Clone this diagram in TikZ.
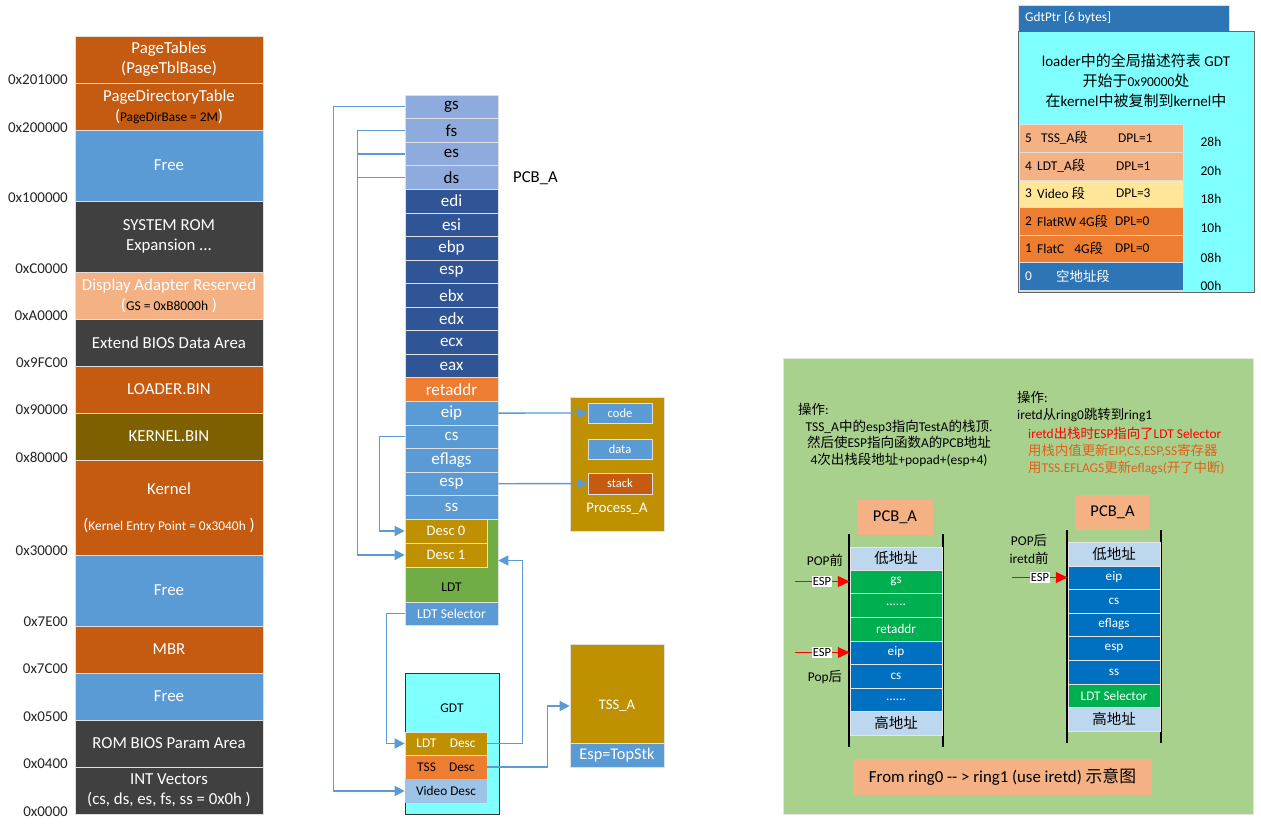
\documentclass[tikz,border=0pt]{standalone}
\usepackage{fontspec}
\setmainfont{Carlito}
\newfontfamily\cjk{Noto Sans CJK SC}
\usetikzlibrary{arrows.meta}
\newcommand\zh[1]{{\cjk #1}}
\newcommand\fs[2]{\fontsize{#1}{#2}\selectfont}
\newcommand\mcell[7]{\node[#6,minimum width={(#4)-(#2)},minimum height={(#5)-(#3)}] (#1) at ({((#2)+(#4))/2},{((#3)+(#5))/2}) {#7};}
\definecolor{orng}{HTML}{C55A11}
\definecolor{lblue}{HTML}{5B9BD5}
\definecolor{dgray}{HTML}{404040}
\definecolor{peach}{HTML}{F4B183}
\definecolor{olive}{HTML}{7F6000}
\definecolor{lpurp}{HTML}{8FAADC}
\definecolor{dblue}{HTML}{2F5597}
\definecolor{orange2}{HTML}{ED7D31}
\definecolor{gold}{HTML}{BF9000}
\definecolor{ldtgreen}{HTML}{70AD47}
\definecolor{cyanb}{HTML}{80FFFF}
\definecolor{vdesc}{HTML}{9DC3E6}
\definecolor{gdtblue}{HTML}{2E75B6}
\definecolor{yellowl}{HTML}{FFE699}
\definecolor{pgreen}{HTML}{A9D18E}
\definecolor{bgreen}{HTML}{00B050}
\definecolor{blue2}{HTML}{0070C0}
\definecolor{pale}{HTML}{BDD7EE}
\definecolor{redorange}{HTML}{E0601B}
\begin{document}
\begin{tikzpicture}[x=1pt,y=-1pt,
 mem/.style={draw=white!75!gray, line width=0.6pt, text=white, font=\fs{16.8}{20}, align=center, inner sep=0pt},
 addr/.style={anchor=east, text=black!85, font=\fs{15}{17}, inner sep=0pt},
 reg/.style={draw=white!75!gray, line width=0.6pt, minimum width=93, minimum height=23.56, inner sep=0pt, font=\fs{17}{19}},
 conn/.style={draw=lblue, line width=1.4pt, -{Triangle[length=10pt,width=10pt]}},
 cline/.style={draw=lblue, line width=1.4pt},
 box/.style={draw=white!75!gray, line width=0.6pt, inner sep=0pt},
 lbl/.style={inner sep=0pt, font=\fs{13.4}{15}},
 srow/.style={draw=white!80!gray, line width=0.5pt, inner sep=0pt, font=\fs{13.2}{15}, text=white},
 redarr/.style={draw=red, line width=1pt, -{Triangle[length=12pt,width=11pt]}},
 esplbl/.style={fill=white, inner sep=1pt, font=\fs{12.5}{13}},
 vline/.style={draw=black, line width=1.6pt},
]
\useasboundingbox (0,0) rectangle (1261,828);
\fill[white] (0,0) rectangle (1261,828);

% ---------------- memory map ----------------
\mcell{m1}{75}{36}{263}{83}{mem,fill=orng}{PageTables\\(PageTblBase)}
\mcell{m2}{75}{83}{263}{130}{mem,fill=orng}{PageDirectoryTable\\({\fs{13.3}{15}\color{black}PageDirBase = 2M})}
\mcell{m3}{75}{130}{263}{201}{mem,fill=lblue}{Free}
\mcell{m4}{75}{201}{263}{272}{mem,fill=dgray}{SYSTEM ROM\\Expansion ...}
\mcell{m5}{75}{272}{263}{319}{mem,fill=peach}{Display Adapter Reserved\\({\fs{13.5}{15}\color{black}GS = 0xB8000h} )}
\mcell{m6}{75}{319}{263}{366}{mem,fill=dgray}{Extend BIOS Data Area}
\mcell{m7}{75}{366}{263}{413}{mem,fill=orng}{LOADER.BIN}
\mcell{m8}{75}{413}{263}{460}{mem,fill=olive}{KERNEL.BIN}
\mcell{m9}{75}{460}{263}{555}{mem,fill=orng}{Kernel\\[16pt]({\fs{13.4}{15}Kernel Entry Point = 0x3040h} )}
\mcell{m10}{75}{555}{263}{626}{mem,fill=lblue}{Free}
\mcell{m11}{75}{626}{263}{673}{mem,fill=orng}{MBR}
\mcell{m12}{75}{673}{263}{720}{mem,fill=lblue}{Free}
\mcell{m13}{75}{720}{263}{767}{mem,fill=dgray}{ROM BIOS Param Area}
\mcell{m14}{75}{767}{263}{814}{mem,fill=dgray}{INT Vectors\\(cs, ds, es, fs, ss = 0x0h )}

\node[addr] (a1) at (68,80) {0x201000};
\node[addr] (a2) at (68,128) {0x200000};
\node[addr] (a3) at (68,198) {0x100000};
\node[addr] (a4) at (68,269) {0xC0000};
\node[addr] (a5) at (68,316) {0xA0000};
\node[addr] (a6) at (68,363) {0x9FC00};
\node[addr] (a7) at (68,410) {0x90000};
\node[addr] (a8) at (68,457) {0x80000};
\node[addr] (a9) at (68,551) {0x30000};
\node[addr] (a10) at (68,622) {0x7E00};
\node[addr] (a11) at (68,669) {0x7C00};
\node[addr] (a12) at (68,717) {0x0500};
\node[addr] (a13) at (68,764) {0x0400};
\node[addr] (a14) at (68,812) {0x0000};

% ---------------- PCB stack ----------------
\foreach \t [count=\i from 0] in {gs,fs,es,ds}
  {\node[reg,fill=lpurp,text=black] (p\i) at (451.5,{95+23.56*\i+11.78}) {\t};}
\foreach \t [count=\i from 4] in {edi,esi,ebp,esp,ebx,edx,ecx,eax}
  {\node[reg,fill=dblue,text=white] (p\i) at (451.5,{95+23.56*\i+11.78}) {\t};}
\node[reg,fill=orange2,text=white] (p12) at (451.5,{95+23.56*12+11.78}) {retaddr};
\foreach \t [count=\i from 13] in {eip,cs,eflags,esp,ss}
  {\node[reg,fill=lblue,text=white] (p\i) at (451.5,{95+23.56*\i+11.78}) {\t};}

\node[font=\fs{16.7}{18},inner sep=0pt,anchor=west] (pcbl) at (513,178) {PCB\_A};

\mcell{ldt}{405}{519}{498}{602}{box,fill=ldtgreen}{}
\node[lbl,text=black] (ldtt) at (451.5,587) {LDT};
\mcell{d0}{405}{519}{487}{543}{box,fill=gold,text=white,font=\fs{14.5}{16}}{Desc 0}
\mcell{d1}{405}{543}{487}{567}{box,fill=gold,text=white,font=\fs{14.5}{16}}{Desc 1}
\mcell{lsel}{405}{602}{498}{625}{box,fill=lblue,text=white,font=\fs{13.6}{15}}{LDT Selector}

% ---------------- Process_A ----------------
\mcell{proc}{570}{397}{664}{531}{box,fill=gold}{}
\mcell{code}{588}{403}{652}{423}{box,fill=lblue,text=white,font=\fs{12.5}{14}}{code}
\mcell{data}{588}{439}{652}{459}{box,fill=lblue,text=white,font=\fs{12.5}{14}}{data}
\mcell{stack}{588}{473}{652}{494}{box,fill=orng,text=white,font=\fs{12.5}{14}}{stack}
\node[text=white,font=\fs{14.7}{16},inner sep=0pt] (proct) at (617,509) {Process\_A};

% ---------------- GDT ----------------
\mcell{gdt}{405}{673}{499}{814}{draw=black!80,line width=1pt,fill=cyanb,inner sep=0pt}{}
\node[lbl,text=black] (gdtt) at (452,708) {GDT};
\mcell{ldesc}{405}{732}{487}{755}{box,fill=gold,text=white,font=\fs{13.3}{15}}{LDT\quad Desc}
\mcell{tdesc}{405}{755}{487}{779}{box,fill=orange2,text=black,font=\fs{13.3}{15}}{TSS\quad Desc}
\mcell{vd}{405}{779}{487}{803}{box,draw=none,fill=vdesc,text=black,font=\fs{13.3}{15}}{Video Desc}

% ---------------- TSS_A ----------------
\mcell{tss}{570}{644}{664}{743}{box,fill=gold}{}
\node[text=white,font=\fs{14.6}{16},inner sep=0pt] (tsst) at (617,706) {TSS\_A};
\mcell{esps}{570}{743}{664}{767}{box,fill=lblue,text=white,font=\fs{16.3}{18}}{Esp=TopStk}

% ---------------- connectors ----------------
\draw[conn] (p0.west) -- ++(-71,0) |- (vd.west);
\draw[conn] (p1.west) -- ++(-47,0) coordinate (j1) |- (d1.west);
\draw[cline] (p2.west) -- (p2.west -| j1);
\draw[cline] (p3.west) -- (p3.west -| j1);
\draw[conn] (p14.west) -- ++(-25,0) |- (d0.west);
\draw[conn] (lsel.west) -- ++(-18,0) |- (ldesc.west);
\draw[conn] (ldesc.east) -- ++(35,0) |- (ldt.east);
\draw[conn] (tdesc.east) -- ++(60,0) |- (tss.west |- tsst);
\draw[conn] (p13.east) -- (code.west);
\draw[conn] (p16.east) -- (stack.west);

% ---------------- top-right GDT ----------------
\mcell{gptr}{1018}{5}{1229}{31}{box,fill=gdtblue}{}
\node[anchor=west,text=white,font=\fs{13.3}{15},inner sep=0pt] (gptrt) at (1025,18) {GdtPtr [6 bytes]};
\mcell{gbox}{1018}{31}{1254}{292}{draw=gray!80!black,line width=0.8pt,fill=cyanb,inner sep=0pt}{}
\node[align=center,font=\fs{15}{20},inner sep=0pt] (gtitle) at (1136,81)
 {loader\zh{中的全局描述符表} GDT\\\zh{开始于}{\fs{13.5}{20}0x90000}\zh{处}\\\zh{在}kernel\zh{中被复制到}kernel\zh{中}};
\mcell{g5}{1019}{124.5}{1183}{152}{box,fill=peach}{}
\mcell{g4}{1019}{152}{1183}{180}{box,fill=peach}{}
\mcell{g3}{1019}{180}{1183}{207}{box,fill=yellowl}{}
\mcell{g2}{1019}{207}{1183}{235}{box,fill=orange2}{}
\mcell{g1}{1019}{235}{1183}{262}{box,fill=orange2}{}
\mcell{g0}{1019}{262}{1183}{290}{box,fill=gdtblue}{}
\node[lbl,anchor=west] (g5a) at (1025,138) {5};
\node[lbl,anchor=west] (g5b) at (1041,138) {TSS\_A\zh{段}};
\node[lbl,anchor=west] (g5c) at (1118,138) {DPL=1};
\node[lbl,anchor=west] (g4a) at (1025,166) {4};
\node[lbl,anchor=west] (g4b) at (1037,166) {LDT\_A\zh{段}};
\node[lbl,anchor=west] (g4c) at (1116,166) {DPL=1};
\node[lbl,anchor=west] (g3a) at (1025,193.5) {3};
\node[lbl,anchor=west] (g3b) at (1037,193.5) {Video \zh{段}};
\node[lbl,anchor=west] (g3c) at (1116,193.5) {DPL=3};
\node[lbl,anchor=west] (g2a) at (1025,221) {2};
\node[lbl,anchor=west] (g2b) at (1037,221) {FlatRW 4G\zh{段}};
\node[lbl,anchor=west] (g2c) at (1115,221) {DPL=0};
\node[lbl,anchor=west] (g1a) at (1025,248.5) {1};
\node[lbl,anchor=west] (g1b) at (1037,248.5) {FlatC\hspace{10pt}4G\zh{段}};
\node[lbl,anchor=west] (g1c) at (1115,248.5) {DPL=0};
\node[lbl,anchor=west,text=white] (g0a) at (1025,276) {0};
\node[lbl,anchor=west,text=white] (g0b) at (1056,276) {\zh{空地址段}};
\node[lbl] (o28) at (1211,142) {28h};
\node[lbl] (o20) at (1211,171) {20h};
\node[lbl] (o18) at (1211,199) {18h};
\node[lbl] (o10) at (1211,228) {10h};
\node[lbl] (o08) at (1211,258) {08h};
\node[lbl] (o00) at (1211,286) {00h};

% ---------------- green panel ----------------
\mcell{panel}{783}{358}{1253}{814}{draw=white!80!gray,line width=0.6pt,fill=pgreen,inner sep=0pt}{}
\node[lbl,anchor=west] (op1) at (798,409) {\zh{操作}:};
\node[lbl,align=center,font=\fs{13.5}{16.5}] (op1t) at (899,443)
 {TSS\_A\zh{中的}esp3\zh{指向}TestA\zh{的栈顶}.\\\zh{然后使}ESP\zh{指向函数}A\zh{的}PCB\zh{地址}\\4\zh{次出栈段地址}+popad+(esp+4)};
\node[lbl,anchor=west] (op2) at (1017,397) {\zh{操作}:};
\node[lbl,anchor=west] (op2a) at (1017,415) {iretd\zh{从}ring0\zh{跳转到}ring1};
\node[lbl,anchor=west,text=red] (op2b) at (1028,433) {iretd\zh{出栈时}ESP\zh{指向了}LDT Selector};
\node[lbl,anchor=west,text=redorange] (op2c) at (1028,451) {\zh{用栈内值更新}EIP,CS,ESP,SS\zh{寄存器}};
\node[lbl,anchor=west,text=redorange] (op2d) at (1028,468) {\zh{用}TSS.EFLAGS\zh{更新}eflags(\zh{开了中断})};

% left PCB_A diagram
\mcell{pa1}{857}{500}{933}{535}{fill=peach,inner sep=0pt,font=\fs{16.5}{18}}{PCB\_A}
\draw[vline] (849,534) -- (849,747);
\draw[vline] (943,534) -- (943,747);
\mcell{l0}{850}{547}{942}{570}{srow,fill=pale,text=black,font=\fs{14.5}{16}}{\zh{低地址}}
\mcell{l1}{850}{570}{942}{593}{srow,fill=bgreen}{gs}
\mcell{l2}{850}{593}{942}{617}{srow,fill=bgreen}{......}
\mcell{l3}{850}{617}{942}{641}{srow,fill=bgreen}{retaddr}
\mcell{l4}{850}{641}{942}{664}{srow,fill=blue2}{eip}
\mcell{l5}{850}{664}{942}{688}{srow,fill=blue2}{cs}
\mcell{l6}{850}{688}{942}{711}{srow,fill=blue2}{......}
\mcell{l7}{850}{711}{942}{735}{srow,fill=pale,text=black,font=\fs{14.5}{16}}{\zh{高地址}}
\node[lbl] (popq) at (825,560) {POP\zh{前}};
\node[lbl] (poph) at (825,677) {Pop\zh{后}};
\coordinate (e1) at (795,581.5);
\draw[redarr] (e1) -- (l1.west);
\node[esplbl] (e1t) at (822,581.5) {ESP};
\coordinate (e2) at (795,652.5);
\draw[redarr] (e2) -- (l4.west);
\node[esplbl] (e2t) at (822,652.5) {ESP};

% right PCB_A diagram
\mcell{pa2}{1075}{495}{1150}{530}{fill=peach,inner sep=0pt,font=\fs{16.5}{18}}{PCB\_A}
\draw[vline] (1067,530) -- (1067,743);
\draw[vline] (1161,530) -- (1161,743);
\mcell{r0}{1068}{542}{1160}{566}{srow,fill=pale,text=black,font=\fs{14.5}{16}}{\zh{低地址}}
\mcell{r1}{1068}{566}{1160}{589}{srow,fill=blue2}{eip}
\mcell{r2}{1068}{589}{1160}{613}{srow,fill=blue2}{cs}
\mcell{r3}{1068}{613}{1160}{636}{srow,fill=blue2}{eflags}
\mcell{r4}{1068}{636}{1160}{660}{srow,fill=blue2}{esp}
\mcell{r5}{1068}{660}{1160}{684}{srow,fill=blue2}{ss}
\mcell{r6}{1068}{684}{1160}{707}{srow,fill=bgreen}{LDT Selector}
\mcell{r7}{1068}{707}{1160}{731}{srow,fill=pale,text=black,font=\fs{14.5}{16}}{\zh{高地址}}
\node[lbl] (poph2) at (1029,540) {POP\zh{后}};
\node[lbl] (iretq) at (1029,558) {iretd\zh{前}};
\coordinate (e3) at (1012,577.5);
\draw[redarr] (e3) -- (r1.west);
\node[esplbl] (e3t) at (1040,577.5) {ESP};

\mcell{ring}{853}{759}{1152}{795}{fill=peach,inner sep=0pt,font=\fs{16.8}{18}}{From ring0 -{}- > ring1 (use iretd) \zh{示意图}}
\end{tikzpicture}
\end{document}
